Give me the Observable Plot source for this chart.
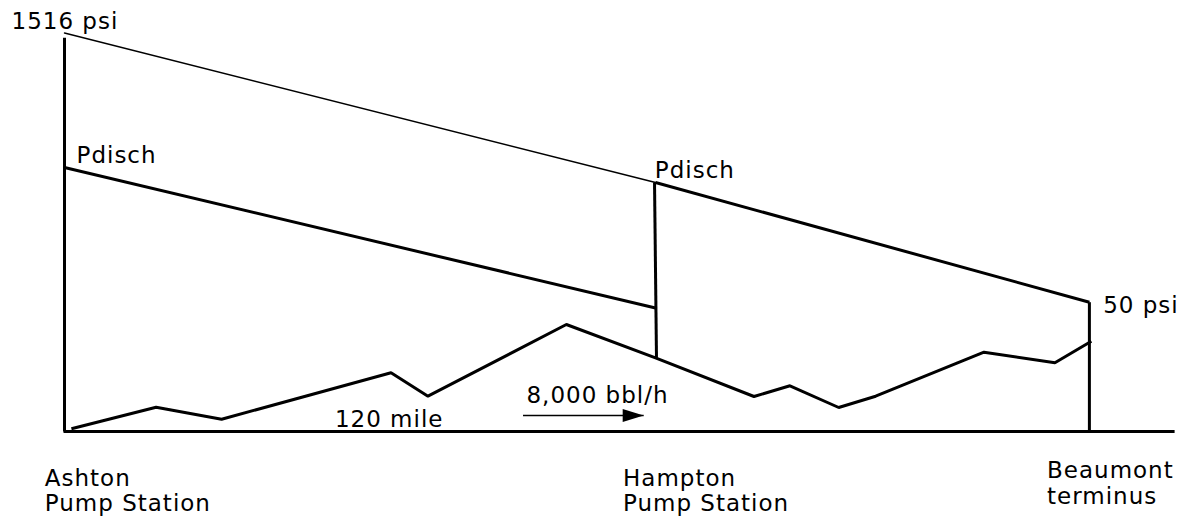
<!DOCTYPE html>
<html>
<head>
<meta charset="utf-8">
<script src="https://cdn.jsdelivr.net/npm/d3@7"></script>
<script src="https://cdn.jsdelivr.net/npm/@observablehq/plot@0.6"></script>
<style>
  html, body { margin: 0; padding: 0; background: #fff; }
</style>
</head>
<body>
<script>
// Stations (miles along the pipeline)
const stationNames = ["Ashton\nPump Station", "Hampton\nPump Station", "Beaumont\nterminus"];
const stationMiles = [0, 120, 208.1];

// Ground elevation profile (mile, head in psi-equivalent)
const profileMiles = [1.4, 18.6, 31.9, 66.3, 73.8, 101.9, 120.0, 140.0, 147.3, 157.2, 164.7, 186.7, 201.1, 208.5];
const profileHead  = [10.3, 92.4, 46.8, 223.3, 134.3, 407.0, 280.4, 133.1, 173.9, 91.3, 134.3, 301.7, 261.4, 343.5];

// Hydraulic gradient lines
const singleMiles = [0, 120];          // single-pump gradient (thin)
const singleHead  = [1516, 947.2];
const pdisch1Miles = [0, 120];         // Ashton discharge gradient
const pdisch1Head  = [1004.3, 469.8];
const pdisch2Miles = [120, 208.1];     // Hampton discharge gradient
const pdisch2Head  = [947.2, 491.9];

// Station verticals
const ashtonMiles = [0, 0];
const ashtonHead  = [1497.7, 0];
const hamptonMiles = [119.8, 120.2];
const hamptonHead  = [947.2, 280.4];
const beaumontMiles = [208.1, 208.1];
const beaumontHead  = [491.9, 0];

// Ground baseline
const baseMiles = [-0.2, 225.4];
const baseHead  = [0, 0];

// Flow arrow
const flowMiles = [93.1, 117.6];
const flowHead  = [60.9, 60.9];

const pts = (xs, ys) => xs.map((x, i) => ({x, y: ys[i]}));

const arrowHead = {
  draw(ctx) {
    ctx.moveTo(0, 0);
    ctx.lineTo(-21, -6.5);
    ctx.lineTo(-21, 6.5);
    ctx.closePath();
  }
};

const labels = [
  {x: -10.76, y: 1529.3, t: "1516 psi"},
  {x: 2.44,   y: 1023.3, t: "Pdisch"},
  {x: 119.86, y: 965.1,  t: "Pdisch"},
  {x: 210.9,  y: 450.0,  t: "50 psi"},
  {x: 54.9,   y: 19.0,   t: "120 mile"},
  {x: 93.8,   y: 107.7,  t: "8,000 bbl/h"}
];
const stationLabelX = [-4.0, 113.4, 199.5];
const stationLabelY = [-304.3, -304.3, -275.0];
const stationLabels = stationNames.map((t, i) => ({x: stationLabelX[i], y: stationLabelY[i], t}));

const chart = Plot.plot({
  width: 1184,
  height: 517,
  margin: 0,
  x: {domain: [-12.995, 227.41], range: [0, 1184], axis: null},
  y: {domain: [-327.16, 1639.6], range: [517, 0], axis: null},
  style: {fontFamily: "DejaVu Sans, Verdana, sans-serif", fontSize: "23px", letterSpacing: "1px", background: "#fff", color: "#000"},
  marks: [
    Plot.line(pts(baseMiles, baseHead), {x: "x", y: "y", stroke: "#000", strokeWidth: 3, strokeLinecap: "butt"}),
    Plot.line(pts(profileMiles, profileHead), {x: "x", y: "y", stroke: "#000", strokeWidth: 3, strokeLinejoin: "miter", strokeLinecap: "butt"}),
    Plot.line(pts(singleMiles, singleHead), {x: "x", y: "y", stroke: "#000", strokeWidth: 1.4}),
    Plot.line(pts(pdisch1Miles, pdisch1Head), {x: "x", y: "y", stroke: "#000", strokeWidth: 3, strokeLinecap: "butt"}),
    Plot.line(pts(pdisch2Miles, pdisch2Head), {x: "x", y: "y", stroke: "#000", strokeWidth: 3, strokeLinecap: "butt"}),
    Plot.line(pts(ashtonMiles, ashtonHead), {x: "x", y: "y", stroke: "#000", strokeWidth: 3, strokeLinecap: "butt"}),
    Plot.line(pts(hamptonMiles, hamptonHead), {x: "x", y: "y", stroke: "#000", strokeWidth: 3, strokeLinecap: "butt"}),
    Plot.line(pts(beaumontMiles, beaumontHead), {x: "x", y: "y", stroke: "#000", strokeWidth: 3, strokeLinecap: "butt"}),
    Plot.line(pts(flowMiles, flowHead), {x: "x", y: "y", stroke: "#000", strokeWidth: 1.5, strokeLinecap: "butt"}),
    Plot.dot([{x: flowMiles[1], y: flowHead[1]}], {x: "x", y: "y", symbol: arrowHead, fill: "#000", stroke: "none"}),
    Plot.text(labels, {x: "x", y: "y", text: "t", textAnchor: "start", lineAnchor: "bottom", fontSize: 23, fill: "#000"}),
    Plot.text(stationLabels, {x: "x", y: "y", text: "t", textAnchor: "start", lineAnchor: "bottom", lineHeight: 1.13, fontSize: 23, fill: "#000"})
  ]
});
document.body.appendChild(chart);
</script>
</body>
</html>
